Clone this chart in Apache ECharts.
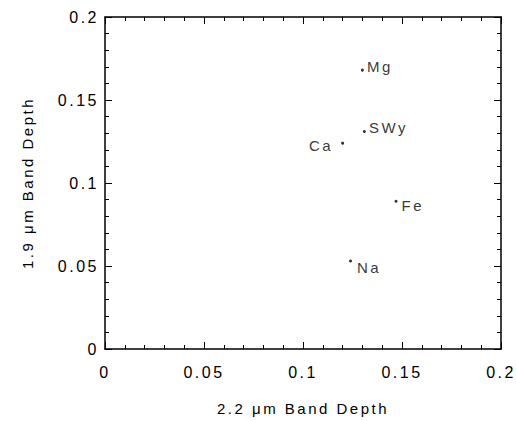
<!DOCTYPE html>
<html>
<head>
<meta charset="utf-8">
<script src="https://cdn.jsdelivr.net/npm/echarts@6/dist/echarts.min.js"></script>
<style>
  html, body { margin: 0; padding: 0; background: #fff; }
  #chart { width: 516px; height: 421px; }
  /* the original figure uses widely spaced lettering */
  #chart svg text { letter-spacing: 2.5px; }
</style>
</head>
<body>
<div id="chart"></div>
<script>
// clay samples: 2.2 um vs 1.9 um band depth
const names = ['Mg', 'SWy', 'Ca', 'Fe', 'Na']
const bandDepth22 = [0.130, 0.131, 0.120, 0.147, 0.124]
const bandDepth19 = [0.168, 0.131, 0.124, 0.089, 0.053]
const tickValues = [0, 0.05, 0.1, 0.15, 0.2]

const font = 'Liberation Sans, Arial, sans-serif'

// where each label sits relative to its dot
const labelStyle = {
  Mg: { position: 'right', distance: 3, offset: [0, -4] },
  SWy: { position: 'right', distance: 3, offset: [0, -4] },
  Ca: { position: 'left', distance: 8, offset: [0, 2] },
  Fe: { position: 'right', distance: 4, offset: [0, 4] },
  Na: { position: 'right', distance: 5, offset: [0, 6] }
}

const fmt = v => (tickValues.indexOf(v) >= 0 ? String(v) : '')

const axisBase = {
  type: 'value',
  min: 0,
  max: 0.2,
  interval: 0.05,
  splitLine: { show: false },
  axisLine: { show: true, onZero: false, lineStyle: { color: '#000', width: 1.5 } },
  axisTick: { show: true, inside: true, length: 7, lineStyle: { color: '#000' } },
  minorTick: { show: true, splitNumber: 5, length: 4, lineStyle: { color: '#000' } }
}

const chart = echarts.init(document.getElementById('chart'), null, { renderer: 'svg' })

chart.setOption({
  animation: false,
  backgroundColor: '#fff',
  grid: { left: 105, right: 15, top: 17, bottom: 69 },
  xAxis: [
    Object.assign({}, axisBase, {
      position: 'bottom',
      name: '2.2 \u03bcm Band Depth',
      nameLocation: 'middle',
      nameGap: 52,
      nameTextStyle: { color: '#000', fontSize: 15, fontFamily: font },
      axisLabel: { color: '#000', fontSize: 16, fontFamily: font, margin: 15, formatter: fmt }
    }),
    Object.assign({}, axisBase, {
      position: 'top',
      axisLabel: { show: false }
    })
  ],
  yAxis: [
    Object.assign({}, axisBase, {
      position: 'left',
      name: '1.9 \u03bcm Band Depth',
      nameLocation: 'middle',
      nameGap: 70,
      nameTextStyle: { color: '#000', fontSize: 15, fontFamily: font },
      axisLabel: { color: '#000', fontSize: 16, fontFamily: font, margin: 6, formatter: fmt }
    }),
    Object.assign({}, axisBase, {
      position: 'right',
      axisLabel: { show: false }
    })
  ],
  series: [{
    type: 'scatter',
    symbol: 'circle',
    symbolSize: 3,
    itemStyle: { color: '#000' },
    data: names.map((n, i) => ({
      name: n,
      value: [bandDepth22[i], bandDepth19[i]],
      label: Object.assign({
        show: true,
        formatter: '{b}',
        color: '#000',
        fontSize: 15,
        fontFamily: font
      }, labelStyle[n])
    }))
  }]
})
</script>
</body>
</html>
